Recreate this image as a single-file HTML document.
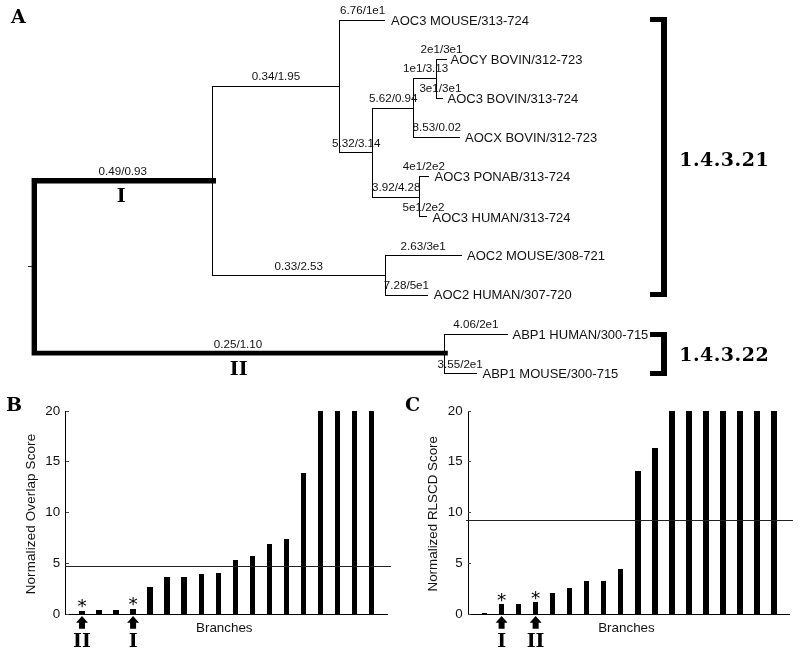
<!DOCTYPE html>
<html><head><meta charset="utf-8"><title>Figure</title>
<style>
html,body{margin:0;padding:0;background:#fff;}
svg{display:block}
.s{font-family:"Liberation Sans",Arial,sans-serif;font-size:10px;fill:#111}
.l{font-family:"Liberation Sans",Arial,sans-serif;font-size:13px;fill:#111}
.ax{font-family:"Liberation Sans",Arial,sans-serif;font-size:13.4px;fill:#111}
.b{font-family:"DejaVu Serif",serif;font-weight:bold;font-size:19px;fill:#000}
.ec{font-family:"DejaVu Serif",serif;font-weight:bold;font-size:19px;letter-spacing:0.5px;fill:#000}
.st{font-family:"DejaVu Sans",sans-serif;font-size:18.5px;fill:#000}
</style></head><body>
<svg width="800" height="654" viewBox="0 0 800 654">
<rect width="800" height="654" fill="#fff"/>

<path d="M31.6 178 H216 V183.5 H37 V350.75 H447.8 V355.6 H31.6 Z" fill="#000"/>
<g shape-rendering="crispEdges">
<rect x="28" y="266.0" width="4" height="1" fill="#222"/>
<rect x="212.0" y="86" width="1" height="189.5" fill="#000"/>
<rect x="212" y="86.0" width="127.5" height="1" fill="#000"/>
<rect x="339.0" y="20" width="1" height="132.5" fill="#000"/>
<rect x="339" y="20.0" width="46" height="1" fill="#000"/>
<rect x="339" y="151.5" width="33.5" height="1" fill="#000"/>
<rect x="372.0" y="107.5" width="1" height="90.5" fill="#000"/>
<rect x="372" y="107.5" width="41.5" height="1" fill="#000"/>
<rect x="413.0" y="77.5" width="1" height="60.5" fill="#000"/>
<rect x="413" y="77.5" width="24" height="1" fill="#000"/>
<rect x="436.0" y="59" width="1" height="40" fill="#000"/>
<rect x="436" y="59.0" width="10.5" height="1" fill="#000"/>
<rect x="436" y="98.0" width="7" height="1" fill="#000"/>
<rect x="413" y="137.0" width="46.5" height="1" fill="#000"/>
<rect x="372" y="197.0" width="47.5" height="1" fill="#000"/>
<rect x="419.0" y="175.5" width="1" height="41.5" fill="#000"/>
<rect x="419" y="175.5" width="10" height="1" fill="#000"/>
<rect x="419" y="216.0" width="7.5" height="1" fill="#000"/>
<rect x="212" y="275.0" width="173.5" height="1" fill="#000"/>
<rect x="385.0" y="255" width="1" height="40.5" fill="#000"/>
<rect x="385" y="255.0" width="77" height="1" fill="#000"/>
<rect x="385" y="294.5" width="42.5" height="1" fill="#000"/>
<rect x="444.0" y="334" width="1" height="39.5" fill="#000"/>
<rect x="444" y="334.0" width="64" height="1" fill="#000"/>
<rect x="444" y="372.5" width="32.80000000000001" height="1" fill="#000"/>
<rect x="661" y="17" width="6" height="280" fill="#000"/>
<rect x="650" y="17" width="17" height="5" fill="#000"/>
<rect x="650" y="292" width="17" height="5" fill="#000"/>
<rect x="661" y="331.5" width="6" height="44" fill="#000"/>
<rect x="650" y="331.5" width="17" height="5.5" fill="#000"/>
<rect x="650" y="370.5" width="17" height="5" fill="#000"/>
</g>
<text class="s" transform="translate(340,13.75) scale(1.165,1)">6.76/1e1</text>
<text class="s" transform="translate(251.75,80.4) scale(1.165,1)">0.34/1.95</text>
<text class="s" transform="translate(332,146.7) scale(1.165,1)">5.32/3.14</text>
<text class="s" transform="translate(369,102) scale(1.165,1)">5.62/0.94</text>
<text class="s" transform="translate(403,72.2) scale(1.165,1)">1e1/3.13</text>
<text class="s" transform="translate(420.5,52.5) scale(1.165,1)">2e1/3e1</text>
<text class="s" transform="translate(419.4,91.8) scale(1.165,1)">3e1/3e1</text>
<text class="s" transform="translate(412.5,131) scale(1.165,1)">8.53/0.02</text>
<text class="s" transform="translate(372,190.5) scale(1.165,1)">3.92/4.28</text>
<text class="s" transform="translate(402.8,170.1) scale(1.165,1)">4e1/2e2</text>
<text class="s" transform="translate(402.5,210.5) scale(1.165,1)">5e1/2e2</text>
<text class="s" transform="translate(274.5,269.75) scale(1.165,1)">0.33/2.53</text>
<text class="s" transform="translate(400.5,249.75) scale(1.165,1)">2.63/3e1</text>
<text class="s" transform="translate(383.75,288.5) scale(1.165,1)">7.28/5e1</text>
<text class="s" transform="translate(453.25,328) scale(1.165,1)">4.06/2e1</text>
<text class="s" transform="translate(437.5,367.7) scale(1.165,1)">3.55/2e1</text>
<text class="s" transform="translate(213.75,347.5) scale(1.165,1)">0.25/1.10</text>
<text class="s" transform="translate(98.5,175) scale(1.165,1)">0.49/0.93</text>
<text class="l" x="391" y="24.5">AOC3 MOUSE/313-724</text>
<text class="l" x="450.5" y="63.75">AOCY BOVIN/312-723</text>
<text class="l" x="447.5" y="102.5">AOC3 BOVIN/313-724</text>
<text class="l" x="465" y="141.5">AOCX BOVIN/312-723</text>
<text class="l" x="434.5" y="181">AOC3 PONAB/313-724</text>
<text class="l" x="432.5" y="221.5">AOC3 HUMAN/313-724</text>
<text class="l" x="467" y="259.75">AOC2 MOUSE/308-721</text>
<text class="l" x="433.75" y="299">AOC2 HUMAN/307-720</text>
<text class="l" x="512.5" y="338.5">ABP1 HUMAN/300-715</text>
<text class="l" x="482.5" y="377.6">ABP1 MOUSE/300-715</text>
<text class="ec" x="679.2" y="165.6">1.4.3.21</text>
<text class="ec" x="679.2" y="361.3">1.4.3.22</text>
<text class="b" x="11" y="23">A</text>
<text class="b" x="6" y="410.5">B</text>
<text class="b" x="405" y="410.5">C</text>
<text class="b" x="121.2" y="202" text-anchor="middle">I</text>
<text class="b" x="238.7" y="374.5" text-anchor="middle">II</text>
<g shape-rendering="crispEdges">
<rect x="79.30" y="610.5" width="5.4" height="4.00" fill="#000"/>
<rect x="96.33" y="609.5" width="5.4" height="5.00" fill="#000"/>
<rect x="113.36" y="609.5" width="5.4" height="5.00" fill="#000"/>
<rect x="130.39" y="608.5" width="5.4" height="6.00" fill="#000"/>
<rect x="147.42" y="586.75" width="5.4" height="27.75" fill="#000"/>
<rect x="164.45" y="576.75" width="5.4" height="37.75" fill="#000"/>
<rect x="181.48" y="576.75" width="5.4" height="37.75" fill="#000"/>
<rect x="198.51" y="573.7" width="5.4" height="40.80" fill="#000"/>
<rect x="215.54" y="572.5" width="5.4" height="42.00" fill="#000"/>
<rect x="232.57" y="559.5" width="5.4" height="55.00" fill="#000"/>
<rect x="249.60" y="556" width="5.4" height="58.50" fill="#000"/>
<rect x="266.63" y="544.2" width="5.4" height="70.30" fill="#000"/>
<rect x="283.66" y="539" width="5.4" height="75.50" fill="#000"/>
<rect x="300.69" y="472.8" width="5.4" height="141.70" fill="#000"/>
<rect x="317.72" y="411" width="5.4" height="203.50" fill="#000"/>
<rect x="334.75" y="411" width="5.4" height="203.50" fill="#000"/>
<rect x="351.78" y="411" width="5.4" height="203.50" fill="#000"/>
<rect x="368.81" y="411" width="5.4" height="203.50" fill="#000"/>
<rect x="65.0" y="411" width="1" height="204" fill="#000"/>
<rect x="65.0" y="614.0" width="323.0" height="1" fill="#000"/>
<rect x="65.5" y="614.0" width="3.200000000000003" height="1" fill="#444"/>
<rect x="65.5" y="563.0" width="3.200000000000003" height="1" fill="#444"/>
<rect x="65.5" y="512.0" width="3.200000000000003" height="1" fill="#444"/>
<rect x="65.5" y="461.0" width="3.200000000000003" height="1" fill="#444"/>
<rect x="65.5" y="411.0" width="3.200000000000003" height="1" fill="#444"/>
<rect x="65" y="565.8" width="326" height="1" fill="#222"/>
</g>
<text class="ax" x="60.2" y="617.9" text-anchor="end">0</text>
<text class="ax" x="60.2" y="566.9" text-anchor="end">5</text>
<text class="ax" x="60.2" y="515.9" text-anchor="end">10</text>
<text class="ax" x="60.2" y="464.9" text-anchor="end">15</text>
<text class="ax" x="60.2" y="414.9" text-anchor="end">20</text>
<text class="ax" transform="translate(35,514) rotate(-90)" text-anchor="middle" style="letter-spacing:0.15px">Normalized Overlap Score</text>
<text class="ax" x="196" y="632">Branches</text>
<text class="st" x="82.0" y="612.1" text-anchor="middle">*</text>
<path d="M82.0 616 L88.0 622.7 L85.0 622.7 L85.0 628.7 L79.0 628.7 L79.0 622.7 L76.0 622.7 Z" fill="#000"/>
<text class="b" x="82.0" y="647.4" text-anchor="middle">II</text>
<text class="st" x="133.09" y="609.75" text-anchor="middle">*</text>
<path d="M133.09 616 L139.09 622.7 L136.09 622.7 L136.09 628.7 L130.09 628.7 L130.09 622.7 L127.09 622.7 Z" fill="#000"/>
<text class="b" x="133.09" y="647.4" text-anchor="middle">I</text>
<g shape-rendering="crispEdges">
<rect x="481.85" y="612.5" width="5.4" height="2.00" fill="#000"/>
<rect x="498.88" y="603.75" width="5.4" height="10.75" fill="#000"/>
<rect x="515.91" y="603.75" width="5.4" height="10.75" fill="#000"/>
<rect x="532.94" y="601.75" width="5.4" height="12.75" fill="#000"/>
<rect x="549.97" y="592.5" width="5.4" height="22.00" fill="#000"/>
<rect x="567.00" y="587.5" width="5.4" height="27.00" fill="#000"/>
<rect x="584.03" y="581" width="5.4" height="33.50" fill="#000"/>
<rect x="601.06" y="581.4" width="5.4" height="33.10" fill="#000"/>
<rect x="618.09" y="569.25" width="5.4" height="45.25" fill="#000"/>
<rect x="635.12" y="470.7" width="5.4" height="143.80" fill="#000"/>
<rect x="652.15" y="447.7" width="5.4" height="166.80" fill="#000"/>
<rect x="669.18" y="411" width="5.4" height="203.50" fill="#000"/>
<rect x="686.21" y="411" width="5.4" height="203.50" fill="#000"/>
<rect x="703.24" y="411" width="5.4" height="203.50" fill="#000"/>
<rect x="720.27" y="411" width="5.4" height="203.50" fill="#000"/>
<rect x="737.30" y="411" width="5.4" height="203.50" fill="#000"/>
<rect x="754.33" y="411" width="5.4" height="203.50" fill="#000"/>
<rect x="771.36" y="411" width="5.4" height="203.50" fill="#000"/>
<rect x="467.5" y="411" width="1" height="204" fill="#000"/>
<rect x="467.5" y="614.0" width="322.5" height="1" fill="#000"/>
<rect x="468" y="614.0" width="3.1999999999999886" height="1" fill="#444"/>
<rect x="468" y="563.0" width="3.1999999999999886" height="1" fill="#444"/>
<rect x="468" y="512.0" width="3.1999999999999886" height="1" fill="#444"/>
<rect x="468" y="461.0" width="3.1999999999999886" height="1" fill="#444"/>
<rect x="468" y="411.0" width="3.1999999999999886" height="1" fill="#444"/>
<rect x="465.5" y="520.1" width="327.5" height="1" fill="#222"/>
</g>
<text class="ax" x="462.7" y="617.9" text-anchor="end">0</text>
<text class="ax" x="462.7" y="566.9" text-anchor="end">5</text>
<text class="ax" x="462.7" y="515.9" text-anchor="end">10</text>
<text class="ax" x="462.7" y="464.9" text-anchor="end">15</text>
<text class="ax" x="462.7" y="414.9" text-anchor="end">20</text>
<text class="ax" transform="translate(436.7,513.75) rotate(-90)" text-anchor="middle" style="letter-spacing:0px">Normalized RLSCD Score</text>
<text class="ax" x="598.2" y="632">Branches</text>
<text class="st" x="501.58" y="605.75" text-anchor="middle">*</text>
<path d="M501.58 616 L507.58 622.7 L504.58 622.7 L504.58 628.7 L498.58 628.7 L498.58 622.7 L495.58 622.7 Z" fill="#000"/>
<text class="b" x="501.58" y="647.4" text-anchor="middle">I</text>
<text class="st" x="535.64" y="604" text-anchor="middle">*</text>
<path d="M535.64 616 L541.64 622.7 L538.64 622.7 L538.64 628.7 L532.64 628.7 L532.64 622.7 L529.64 622.7 Z" fill="#000"/>
<text class="b" x="535.64" y="647.4" text-anchor="middle">II</text>
</svg></body></html>
